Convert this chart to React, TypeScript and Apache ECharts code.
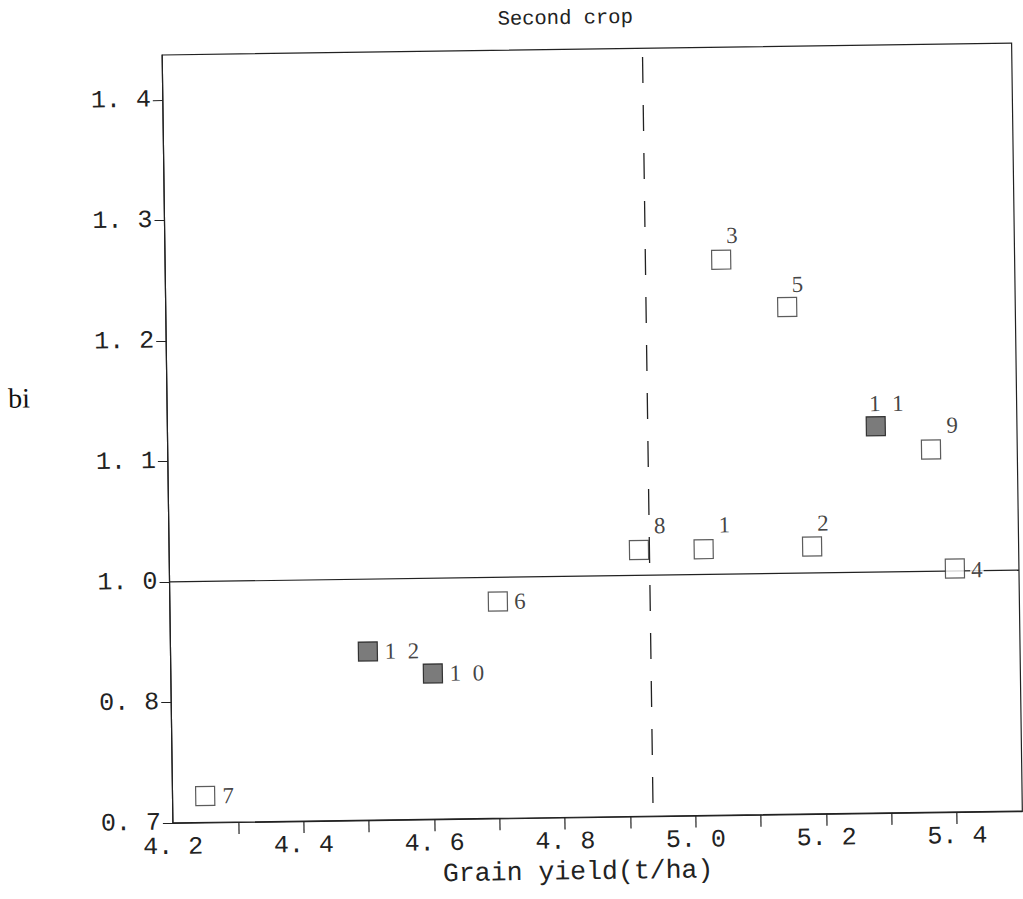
import React, { useEffect, useRef } from "react";
import * as echarts from "echarts";

// ---- data ----
const varietyIds = [1, 2, 3, 4, 5, 6, 7, 8, 9, 10, 11, 12];
const grainYield = [5.018, 5.184, 5.051, 5.402, 5.151, 4.702, 4.25, 4.919, 5.368, 4.601, 5.284, 4.502];
const biValues = [1.021, 1.022, 1.261, 1.002, 1.221, 0.98, 0.822, 1.021, 1.101, 0.921, 1.121, 0.94];
const filledIds = [10, 11, 12];
const meanYield = 4.935;
const referenceBi = 1.0;

const xLabelValues = [4.2, 4.4, 4.6, 4.8, 5.0, 5.2, 5.4];
const xTickLabels = ["4. 2", "4. 4", "4. 6", "4. 8", "5. 0", "5. 2", "5. 4"];
const xTickValues = [4.3, 4.4, 4.5, 4.6, 4.7, 4.8, 4.9, 5.0, 5.1, 5.2, 5.3, 5.4];
const yTickValues = [0.8, 0.9, 1.0, 1.1, 1.2, 1.3, 1.4];
const yTickLabels = ["0. 7", "0. 8", "1. 0", "1. 1", "1. 2", "1. 3", "1. 4"];

const xMin = 4.2;
const xMax = 5.5;
const yMin = 0.8;
const yMax = 1.4373;

// ---- label placement (styling, px offsets from marker centre) ----
const labelOffsets: Record<number, [number, number]> = {
  1: [21, -24],
  2: [11, -23],
  3: [11, -24],
  4: [22, 1.5],
  5: [10.5, -22.5],
  6: [22, 0],
  7: [23, 0],
  8: [21, -24],
  9: [21.5, -24],
  10: [34, 0],
  11: [11, -22.5],
  12: [34, 0],
};

const INK = "#222";
const MONO = "'Liberation Mono', 'DejaVu Sans Mono', monospace";
const SERIF = "'Liberation Serif', 'DejaVu Serif', serif";

function findLabel(values: number[], labels: string[], v: number): string {
  for (let i = 0; i < values.length; i++) {
    if (Math.abs(values[i] - v) < 1e-6) return labels[i];
  }
  return "";
}

export default function App() {
  const ref = useRef<HTMLDivElement>(null);

  useEffect(() => {
    if (!ref.current) return;
    const chart = echarts.init(ref.current, null, { renderer: "svg" });

    const points = varietyIds.map((id, i) => {
      const filled = filledIds.indexOf(id) >= 0;
      return {
        value: [grainYield[i], biValues[i]],
        itemStyle: {
          color: filled ? "#5a5a5a" : "#ffffff",
          borderColor: filled ? "#111" : "#333",
          borderWidth: 1.2,
        },
        label: {
          show: true,
          position: "inside",
          offset: labelOffsets[id],
          formatter: id > 9 ? String(id).split("").join("  ") : String(id),
          fontFamily: SERIF,
          fontSize: 23,
          color: "#111",
          align: "center",
          verticalAlign: "middle",
          backgroundColor: "#fff",
          padding: [0, 1],
        },
      };
    });

    const option: any = {
      animation: false,
      backgroundColor: "#fff",
      grid: {
        left: 167.5,
        right: 6,
        top: 49,
        bottom: 82,
        show: true,
        borderColor: INK,
        borderWidth: 1.2,
        backgroundColor: "transparent",
      },
      graphic: [
        {
          type: "text",
          x: 571,
          y: 18,
          style: {
            text: "Second crop",
            fontFamily: MONO,
            fontSize: 20.5,
            fill: INK,
            align: "center",
            verticalAlign: "middle",
          },
        },
        {
          type: "text",
          x: 19.5,
          y: 390,
          style: {
            text: "bi",
            fontFamily: SERIF,
            fontSize: 28,
            fill: "#111",
            align: "center",
            verticalAlign: "middle",
          },
        },
        {
          type: "text",
          x: 572,
          y: 872,
          style: {
            text: "Grain yield(t/ha)",
            fontFamily: MONO,
            fontSize: 26.5,
            fill: INK,
            align: "center",
            verticalAlign: "middle",
          },
        },
      ],
      xAxis: {
        type: "value",
        min: xMin,
        max: xMax,
        interval: 0.1,
        axisLine: { show: true, onZero: false, lineStyle: { color: INK, width: 1.2 } },
        axisTick: {
          show: true,
          length: 12,
          customValues: xTickValues,
          lineStyle: { color: INK, width: 1.2 },
        },
        axisLabel: {
          customValues: xLabelValues,
          margin: 12,
          fontFamily: MONO,
          fontSize: 25,
          color: INK,
          formatter: (v: number) => findLabel(xLabelValues, xTickLabels, v),
        },
        splitLine: { show: false },
      },
      yAxis: {
        type: "value",
        min: yMin,
        max: yMax,
        interval: 0.1,
        axisLine: { show: true, onZero: false, lineStyle: { color: INK, width: 1.2 } },
        axisTick: {
          show: true,
          length: 10,
          customValues: yTickValues,
          lineStyle: { color: INK, width: 1 },
        },
        axisLabel: {
          customValues: yTickValues,
          margin: 12,
          fontFamily: MONO,
          fontSize: 25,
          color: INK,
          formatter: (v: number) => findLabel(yTickValues, yTickLabels, v),
        },
        splitLine: { show: false },
      },
      series: [
        {
          type: "line",
          z: 1,
          symbol: "none",
          silent: true,
          data: [
            [xMin, referenceBi],
            [xMax, referenceBi],
          ],
          lineStyle: { color: INK, width: 1.2, type: "solid" },
        },
        {
          type: "line",
          z: 1,
          symbol: "none",
          silent: true,
          data: [
            [meanYield, 0.811],
            [meanYield, yMax],
          ],
          lineStyle: { color: INK, width: 1.3, type: [26, 22] },
        },
        {
          type: "scatter",
          z: 3,
          symbol: "rect",
          symbolSize: 19,
          data: points,
        },
      ],
    };

    chart.setOption(option);
    return () => {
      chart.dispose();
    };
  }, []);

  return (
    <div
      style={{
        position: "fixed",
        left: 0,
        top: 0,
        width: 1023,
        height: 899,
        overflow: "hidden",
        background: "#fff",
      }}
    >
      <div
        ref={ref}
        style={{
          width: 1023,
          height: 899,
          transform: "rotate(-0.8deg)",
          transformOrigin: "594px 433px",
        }}
      />
    </div>
  );
}
